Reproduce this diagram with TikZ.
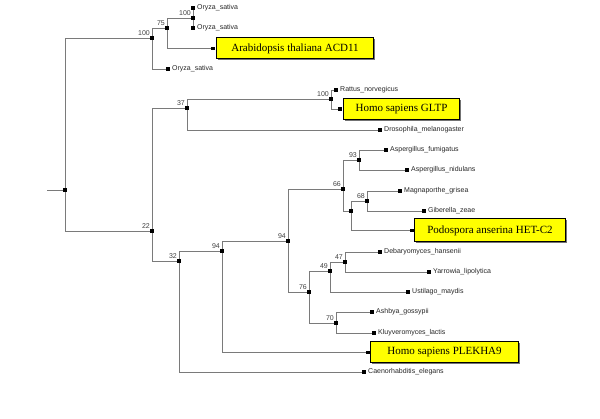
\documentclass[tikz,border=0pt]{standalone}
\usepackage{fontspec}
\setmainfont{Liberation Serif}
\newfontfamily\arialf{Liberation Sans}
\usetikzlibrary{backgrounds,shadows,calc}
\definecolor{branch}{HTML}{7A7A7A}
\definecolor{boxyel}{HTML}{FFFF00}
\tikzset{
  dot/.style={rectangle,fill=black,minimum size=3.2pt,inner sep=0pt},
  br/.style={draw=branch,line width=0.8pt},
  leaftxt/.style={anchor=west,font=\arialf\fontsize{7}{8}\selectfont,inner sep=0pt,text=black!85},
  bs/.style={anchor=south east,font=\arialf\fontsize{7}{8}\selectfont,inner sep=0pt,text=black!75},
  hbox/.style={draw=black,line width=1pt,fill=boxyel,anchor=west,font=\fontsize{11}{12}\selectfont,inner sep=0pt,
    drop shadow={shadow xshift=1.2pt,shadow yshift=-1.2pt,fill=black!55,opacity=1}}
}
\begin{document}
\begin{tikzpicture}[x=1pt,y=-1pt]
\useasboundingbox (0,0) rectangle (600,419);
% internal nodes
\node[dot] (root) at (65,190) {};
\coordinate (stub) at (47,190);
\node[dot] (n100a) at (152,38) {};
\node[dot] (n75) at (167,28) {};
\node[dot] (n100b) at (193,18) {};
\node[dot] (n22) at (152,231) {};
\node[dot] (n37) at (187,108) {};
\node[dot] (n100c) at (331,99) {};
\node[dot] (n32) at (179,261) {};
\node[dot] (n94a) at (222,251) {};
\node[dot] (n94b) at (288,241) {};
\node[dot] (n66) at (343,189) {};
\node[dot] (n93) at (359,160) {};
\node[dot] (nu) at (351,211) {};
\node[dot] (n68) at (367,201) {};
\node[dot] (n76) at (309,292) {};
\node[dot] (n49) at (330,271) {};
\node[dot] (n47) at (345,262) {};
\node[dot] (n70) at (336,323) {};
% leaves
\node[dot] (lOs1) at (193,8) {};
\node[dot] (lOs2) at (193,28) {};
\node[dot] (lOs3) at (168,69) {};
\node[dot] (lAr) at (213,48.5) {};
\node[dot] (lRn) at (336,90) {};
\node[dot] (lGl) at (340,109) {};
\node[dot] (lDm) at (380,130) {};
\node[dot] (lAf) at (386,150) {};
\node[dot] (lAn) at (407,170) {};
\node[dot] (lMg) at (400,191) {};
\node[dot] (lGz) at (424,211) {};
\node[dot] (lPa) at (412,230.5) {};
\node[dot] (lDh) at (380,252) {};
\node[dot] (lYl) at (429,272) {};
\node[dot] (lUm) at (408,292) {};
\node[dot] (lAg) at (372,312) {};
\node[dot] (lKl) at (374,333) {};
\node[dot] (lPl) at (368,352.5) {};
\node[dot] (lCe) at (364,372) {};
% branches
\begin{scope}[on background layer]
\draw[br] (stub) -- (root.center);
\draw[br] (root.center) |- (n100a.center);
\draw[br] (root.center) |- (n22.center);
\draw[br] (n100a.center) |- (n75.center);
\draw[br] (n100a.center) |- (lOs3.center);
\draw[br] (n75.center) |- (n100b.center);
\draw[br] (n75.center) |- (lAr.center);
\draw[br] (n100b.center) |- (lOs1.center);
\draw[br] (n100b.center) |- (lOs2.center);
\draw[br] (n22.center) |- (n37.center);
\draw[br] (n22.center) |- (n32.center);
\draw[br] (n37.center) |- (n100c.center);
\draw[br] (n37.center) |- (lDm.center);
\draw[br] (n100c.center) |- (lRn.center);
\draw[br] (n100c.center) |- (lGl.center);
\draw[br] (n32.center) |- (n94a.center);
\draw[br] (n32.center) |- (lCe.center);
\draw[br] (n94a.center) |- (n94b.center);
\draw[br] (n94a.center) |- (lPl.center);
\draw[br] (n94b.center) |- (n66.center);
\draw[br] (n94b.center) |- (n76.center);
\draw[br] (n66.center) |- (n93.center);
\draw[br] (n66.center) |- (nu.center);
\draw[br] (n93.center) |- (lAf.center);
\draw[br] (n93.center) |- (lAn.center);
\draw[br] (nu.center) |- (n68.center);
\draw[br] (nu.center) |- (lPa.center);
\draw[br] (n68.center) |- (lMg.center);
\draw[br] (n68.center) |- (lGz.center);
\draw[br] (n76.center) |- (n49.center);
\draw[br] (n76.center) |- (n70.center);
\draw[br] (n49.center) |- (n47.center);
\draw[br] (n49.center) |- (lUm.center);
\draw[br] (n47.center) |- (lDh.center);
\draw[br] (n47.center) |- (lYl.center);
\draw[br] (n70.center) |- (lAg.center);
\draw[br] (n70.center) |- (lKl.center);
\end{scope}
% bootstrap labels
\node[bs] (b100a) at ($(n100a)+(-2,-2)$) {100};
\node[bs] (b75) at ($(n75)+(-2,-2)$) {75};
\node[bs] (b100b) at ($(n100b)+(-2,-2)$) {100};
\node[bs] (b22) at ($(n22)+(-2,-2)$) {22};
\node[bs] (b37) at ($(n37)+(-2,-2)$) {37};
\node[bs] (b100c) at ($(n100c)+(-2,-2)$) {100};
\node[bs] (b32) at ($(n32)+(-2,-2)$) {32};
\node[bs] (b94a) at ($(n94a)+(-2,-2)$) {94};
\node[bs] (b94b) at ($(n94b)+(-2,-2)$) {94};
\node[bs] (b66) at ($(n66)+(-2,-2)$) {66};
\node[bs] (b93) at ($(n93)+(-2,-2)$) {93};
\node[bs] (b68) at ($(n68)+(-2,-2)$) {68};
\node[bs] (b76) at ($(n76)+(-2,-2)$) {76};
\node[bs] (b49) at ($(n49)+(-2,-2)$) {49};
\node[bs] (b47) at ($(n47)+(-2,-2)$) {47};
\node[bs] (b70) at ($(n70)+(-2,-2)$) {70};
% leaf labels
\node[leaftxt] (tOs1) at ($(lOs1)+(4,0)$) {Oryza\_sativa};
\node[leaftxt] (tOs2) at ($(lOs2)+(4,0)$) {Oryza\_sativa};
\node[leaftxt] (tOs3) at ($(lOs3)+(4,0)$) {Oryza\_sativa};
\node[leaftxt] (tRn) at ($(lRn)+(4,0)$) {Rattus\_norvegicus};
\node[leaftxt] (tDm) at ($(lDm)+(4,0)$) {Drosophila\_melanogaster};
\node[leaftxt] (tAf) at ($(lAf)+(4,0)$) {Aspergillus\_fumigatus};
\node[leaftxt] (tAn) at ($(lAn)+(4,0)$) {Aspergillus\_nidulans};
\node[leaftxt] (tMg) at ($(lMg)+(4,0)$) {Magnaporthe\_grisea};
\node[leaftxt] (tGz) at ($(lGz)+(4,0)$) {Giberella\_zeae};
\node[leaftxt] (tDh) at ($(lDh)+(4,0)$) {Debaryomyces\_hansenii};
\node[leaftxt] (tYl) at ($(lYl)+(4,0)$) {Yarrowia\_lipolytica};
\node[leaftxt] (tUm) at ($(lUm)+(4,0)$) {Ustilago\_maydis};
\node[leaftxt] (tAg) at ($(lAg)+(4,0)$) {Ashbya\_gossypii};
\node[leaftxt] (tKl) at ($(lKl)+(4,0)$) {Kluyveromyces\_lactis};
\node[leaftxt] (tCe) at ($(lCe)+(4,0)$) {Caenorhabditis\_elegans};
% highlighted boxes
\node[hbox,minimum width=157pt,minimum height=21pt] (bAr) at (216,48.5) {Arabidopsis thaliana ACD11};
\node[hbox,minimum width=116pt,minimum height=21pt] (bGl) at (343,109) {Homo sapiens GLTP};
\node[hbox,minimum width=151pt,minimum height=23pt] (bPa) at (414,230.5) {Podospora anserina HET-C2};
\node[hbox,minimum width=148pt,minimum height=21pt] (bPl) at (370,352.5) {Homo sapiens PLEKHA9};
\end{tikzpicture}
\end{document}
